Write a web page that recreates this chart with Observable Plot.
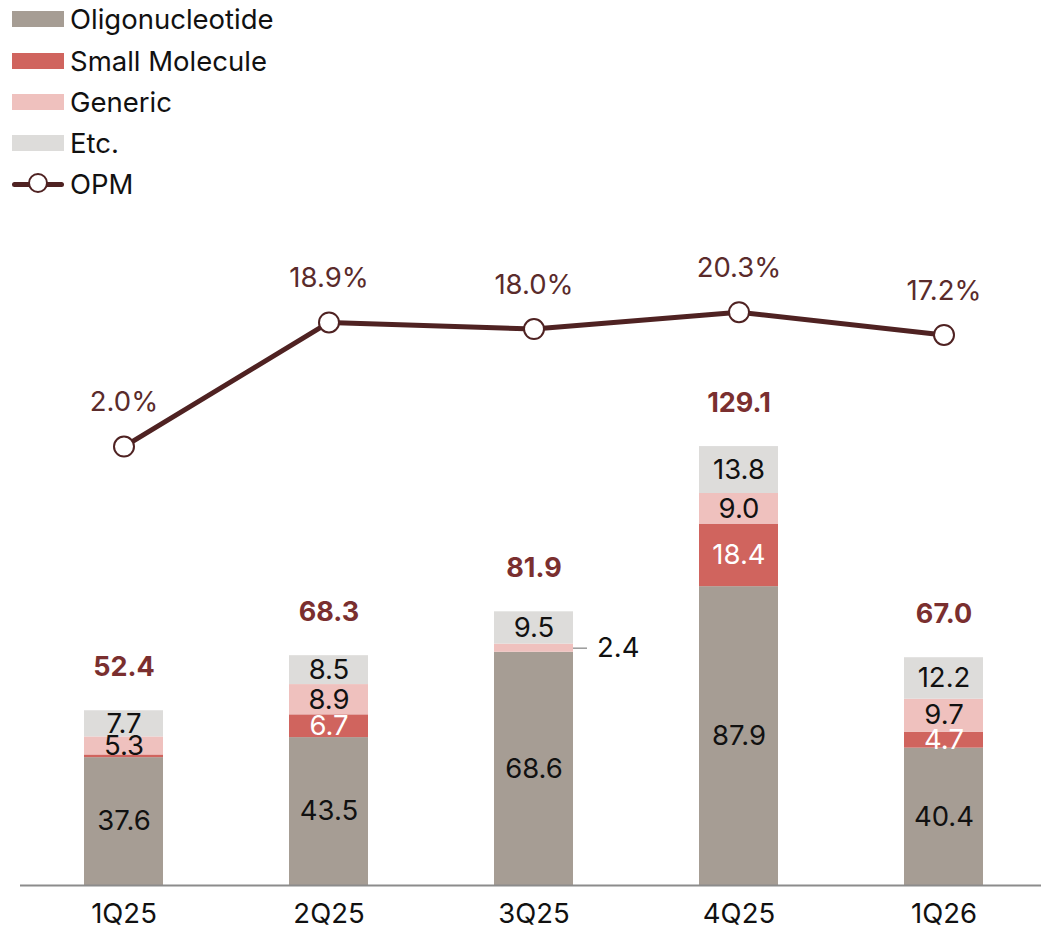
<!DOCTYPE html>
<html>
<head>
<meta charset="utf-8">
<script src="https://cdn.jsdelivr.net/npm/d3@7"></script>
<script src="https://cdn.jsdelivr.net/npm/@observablehq/plot@0.6"></script>
<style>
  html, body { margin: 0; padding: 0; background: #fff; }
  body { width: 1041px; height: 933px; overflow: hidden; font-family: Inter, "Noto Sans", sans-serif; }
  #legend { position: relative; height: 220px; }
  .row { position: absolute; left: 0; height: 30px; display: flex; align-items: center; }
  .sw { width: 52px; height: 16px; margin-left: 12px; margin-right: 6px; }
  .lab { font-size: 27.5px; color: #111; }
  .opm { position: relative; width: 52px; height: 22px; margin-left: 12px; margin-right: 6px; }
  .opm .ln { position: absolute; left: 0; top: 8.5px; width: 52px; height: 5px; background: #4f2222; border-radius: 3px; }
  .opm .ci { position: absolute; left: 16px; top: 0; width: 16px; height: 16px; border: 2px solid #4f2222; border-radius: 50%; background: #fff; }
</style>
</head>
<body>
<div id="legend"></div>
<div id="chart"></div>
<script>
const quarters = ["1Q25", "2Q25", "3Q25", "4Q25", "1Q26"];
const seriesNames = ["Oligonucleotide", "Small Molecule", "Generic", "Etc."];
const oligonucleotide = [37.6, 43.5, 68.6, 87.9, 40.4];
const smallMolecule = [0.8, 6.7, 0.0, 18.4, 4.7];
const generic = [5.3, 8.9, 2.4, 9.0, 9.7];
const etc = [7.7, 8.5, 9.5, 13.8, 12.2];
const totals = [52.4, 68.3, 81.9, 129.1, 67.0];
const opm = [2.0, 18.9, 18.0, 20.3, 17.2];
const smallMoleculeShown = [false, true, false, true, true];
const genericInside = [true, true, false, true, true];

const colors = ["#a69d94", "#d0645e", "#efc1be", "#dddcda"];
const valuesBySeries = [oligonucleotide, smallMolecule, generic, etc];

// legend
const legend = document.getElementById("legend");
const rowsY = [19, 61, 102, 143];
seriesNames.forEach((name, i) => {
  const r = document.createElement("div");
  r.className = "row";
  r.style.top = (rowsY[i] - 15) + "px";
  r.innerHTML = `<div class="sw" style="background:${colors[i]}"></div><div class="lab">${name}</div>`;
  legend.appendChild(r);
});
{
  const r = document.createElement("div");
  r.className = "row";
  r.style.top = (184 - 15) + "px";
  r.innerHTML = `<div class="opm"><div class="ln"></div><div class="ci"></div></div><div class="lab">OPM</div>`;
  legend.appendChild(r);
}

// stacked segments
const segments = [];
const tops = [];
quarters.forEach((q, qi) => {
  let acc = 0;
  seriesNames.forEach((s, si) => {
    const v = valuesBySeries[si][qi];
    segments.push({q, series: s, si, qi, value: v, y1: acc, y2: acc + v});
    acc += v;
  });
  tops.push({q, total: totals[qi], top: acc});
});

const darkLabels = segments.filter(d => (d.si === 0 || d.si === 3 || (d.si === 2 && genericInside[d.qi])));
const whiteLabels = segments.filter(d => d.si === 1 && smallMoleculeShown[d.qi]);
const outsideLabels = segments.filter(d => d.si === 2 && !genericInside[d.qi]);

// secondary (OPM) axis mapped into bar units
const opmScale = d3.scaleLinear().domain([0, 10]).range([124.8, 146.39]);
const opmData = quarters.map((q, i) => ({q, v: opm[i], y: opmScale(opm[i])}));

const FS = 27.5;
const chart = Plot.plot({
  width: 1041,
  height: 713,
  marginLeft: 20,
  marginRight: 0,
  marginTop: 0,
  marginBottom: 48,
  style: {fontFamily: "Inter, 'Noto Sans', sans-serif", fontSize: FS + "px", background: "#fff", overflow: "visible"},
  x: {domain: quarters, range: [19, 1048], paddingInner: 0.616, paddingOuter: 0.308, label: null},
  y: {domain: [0, 195.6], axis: null},
  color: {domain: seriesNames, range: colors},
  marks: [
    Plot.barY(segments, {x: "q", y1: "y1", y2: "y2", fill: "series"}),
    Plot.ruleY([0], {stroke: "#8c8c8c", strokeWidth: 2}),
    Plot.axisX({tickSize: 0, tickPadding: 18, fontSize: FS, fill: "#111", label: null}),
    Plot.text(darkLabels, {x: "q", y: d => (d.y1 + d.y2) / 2, text: d => d.value.toFixed(1), fill: "#111", fontSize: FS}),
    Plot.text(whiteLabels, {x: "q", y: d => (d.y1 + d.y2) / 2, text: d => d.value.toFixed(1), fill: "#fff", fontSize: FS}),
    Plot.tickY(outsideLabels, {x: "q", y: d => (d.y1 + d.y2) / 2, dx: 79, insetRight: 65, stroke: "#9a9a9a", strokeWidth: 1.5}),
    Plot.text(outsideLabels, {x: "q", y: d => (d.y1 + d.y2) / 2, dx: 63, textAnchor: "start", text: d => d.value.toFixed(1), fill: "#111", fontSize: FS}),
    Plot.text(tops, {x: "q", y: "top", dy: -43, text: d => d.total.toFixed(1), fill: "#7a2f2f", fontWeight: "bold", fontSize: 27}),
    Plot.line(opmData, {x: "q", y: "y", stroke: "#4f2222", strokeWidth: 5}),
    Plot.dot(opmData, {x: "q", y: "y", r: 10, fill: "#fff", stroke: "#4f2222", strokeWidth: 2}),
    Plot.text(opmData, {x: "q", y: "y", dy: -44, text: d => d.v.toFixed(1) + "%", fill: "#5a2b2b", fontSize: FS})
  ]
});
document.getElementById("chart").appendChild(chart);
</script>
</body>
</html>
